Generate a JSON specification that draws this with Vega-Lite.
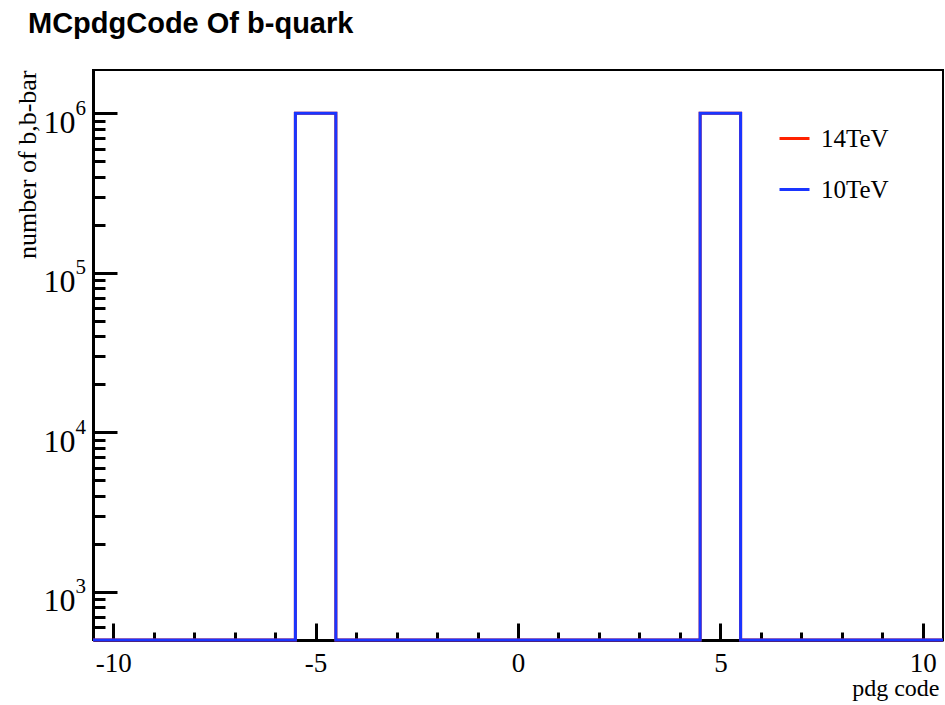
{
  "$schema": "https://vega.github.io/schema/vega-lite/v6.json",
  "width": 850,
  "height": 570,
  "autosize": "none",
  "padding": {"left": 93, "top": 70, "right": 2, "bottom": 65},
  "background": "white",
  "title": {
    "text": "MCpdgCode Of b-quark",
    "font": "Liberation Sans",
    "fontWeight": "bold",
    "fontSize": 29,
    "color": "black",
    "anchor": "start",
    "frame": "group",
    "dx": -65,
    "offset": 8,
    "baseline": "alphabetic"
  },
  "config": {
    "view": {"stroke": "black", "strokeWidth": 2},
    "axis": {"grid": false}
  },
  "data": {
    "values": [
      {"pdg": -10.5, "14TeV": 0, "10TeV": 0},
      {"pdg": -9.5, "14TeV": 0, "10TeV": 0},
      {"pdg": -8.5, "14TeV": 0, "10TeV": 0},
      {"pdg": -7.5, "14TeV": 0, "10TeV": 0},
      {"pdg": -6.5, "14TeV": 0, "10TeV": 0},
      {"pdg": -5.5, "14TeV": 1000000, "10TeV": 1000000},
      {"pdg": -4.5, "14TeV": 0, "10TeV": 0},
      {"pdg": -3.5, "14TeV": 0, "10TeV": 0},
      {"pdg": -2.5, "14TeV": 0, "10TeV": 0},
      {"pdg": -1.5, "14TeV": 0, "10TeV": 0},
      {"pdg": -0.5, "14TeV": 0, "10TeV": 0},
      {"pdg": 0.5, "14TeV": 0, "10TeV": 0},
      {"pdg": 1.5, "14TeV": 0, "10TeV": 0},
      {"pdg": 2.5, "14TeV": 0, "10TeV": 0},
      {"pdg": 3.5, "14TeV": 0, "10TeV": 0},
      {"pdg": 4.5, "14TeV": 1000000, "10TeV": 1000000},
      {"pdg": 5.5, "14TeV": 0, "10TeV": 0},
      {"pdg": 6.5, "14TeV": 0, "10TeV": 0},
      {"pdg": 7.5, "14TeV": 0, "10TeV": 0},
      {"pdg": 8.5, "14TeV": 0, "10TeV": 0},
      {"pdg": 9.5, "14TeV": 0, "10TeV": 0},
      {"pdg": 10.5, "14TeV": 0, "10TeV": 0}
    ]
  },
  "transform": [{"fold": ["14TeV", "10TeV"], "as": ["energy", "count"]}],
  "layer": [
    {
      "transform": [{"filter": "datum.energy === '14TeV'"}],
      "mark": {"type": "line", "interpolate": "step-after", "strokeWidth": 3},
      "encoding": {
        "x": {
          "field": "pdg",
          "type": "quantitative",
          "scale": {"domain": [-10.5, 10.5], "nice": false, "zero": false},
          "axis": {
            "orient": "bottom",
            "values": [-10, -9, -8, -7, -6, -5, -4, -3, -2, -1, 0, 1, 2, 3, 4, 5, 6, 7, 8, 9, 10],
            "tickSize": {"condition": {"test": "datum.value % 5 === 0", "value": -17}, "value": -8},
            "tickWidth": 3,
            "tickColor": "black",
            "domainColor": "black",
            "domainWidth": 3,
            "labelExpr": "datum.value % 5 === 0 ? '' + datum.value : ''",
            "labelFont": "Liberation Serif",
            "labelFontSize": 27,
            "labelColor": "black",
            "labelBaseline": "alphabetic",
            "labelPadding": 48,
            "labelFlush": false,
            "labelOverlap": false,
            "title": "pdg code",
            "titleFont": "Liberation Serif",
            "titleFontSize": 24,
            "titleFontWeight": "normal",
            "titleColor": "black",
            "titleAlign": "right",
            "titleBaseline": "alphabetic",
            "titleX": 846,
            "titleY": 55
          }
        },
        "y": {
          "field": "count",
          "type": "quantitative",
          "scale": {"type": "log", "domain": [500, 1870000], "nice": false, "clamp": true},
          "axis": {
            "orient": "left",
            "values": [600, 700, 800, 900, 1000, 2000, 3000, 4000, 5000, 6000, 7000, 8000, 9000, 10000, 20000, 30000, 40000, 50000, 60000, 70000, 80000, 90000, 100000, 200000, 300000, 400000, 500000, 600000, 700000, 800000, 900000, 1000000],
            "tickSize": {"condition": {"test": "abs(log(datum.value) / LN10 - round(log(datum.value) / LN10)) < 0.000001", "value": -24}, "value": -12},
            "tickWidth": 3,
            "tickColor": "black",
            "domainColor": "black",
            "domainWidth": 3,
            "labelExpr": "abs(log(datum.value) / LN10 - round(log(datum.value) / LN10)) < 0.000001 ? '10' : ''",
            "labelFont": "Liberation Serif",
            "labelFontSize": 32,
            "labelColor": "black",
            "labelAlign": "right",
            "labelBaseline": "alphabetic",
            "labelOffset": 19,
            "labelPadding": 42,
            "labelFlush": false,
            "labelOverlap": false,
            "title": "number of b,b-bar",
            "titleFont": "Liberation Serif",
            "titleFontSize": 26,
            "titleFontWeight": "normal",
            "titleColor": "black",
            "titleAngle": -90,
            "titleAlign": "right",
            "titleBaseline": "alphabetic",
            "titleX": -58,
            "titleY": 0
          }
        },
        "color": {
          "field": "energy",
          "type": "nominal",
          "scale": {"domain": ["14TeV", "10TeV"], "range": ["#ff2200", "#1a35ff"]},
          "legend": {
            "orient": "none",
            "legendX": 685,
            "legendY": 52,
            "title": null,
            "symbolType": "stroke",
            "symbolSize": 900,
            "symbolStrokeWidth": 3,
            "labelFont": "Liberation Serif",
            "labelFontSize": 25,
            "labelColor": "black",
            "labelOffset": 10,
            "rowPadding": 21
          }
        }
      }
    },
    {
      "transform": [{"filter": "datum.energy === '10TeV'"}],
      "mark": {"type": "line", "interpolate": "step-after", "strokeWidth": 3},
      "encoding": {
        "x": {
          "field": "pdg",
          "type": "quantitative",
          "scale": {"domain": [-10.5, 10.5], "nice": false, "zero": false},
          "axis": null
        },
        "y": {
          "field": "count",
          "type": "quantitative",
          "scale": {"type": "log", "domain": [500, 1870000], "nice": false, "clamp": true},
          "axis": {
            "orient": "left",
            "values": [1000, 10000, 100000, 1000000],
            "ticks": false,
            "domain": false,
            "labelExpr": "'' + round(log(datum.value) / LN10)",
            "labelFont": "Liberation Serif",
            "labelFontSize": 21,
            "labelColor": "black",
            "labelAlign": "left",
            "labelBaseline": "alphabetic",
            "labelOffset": 1,
            "labelPadding": 18,
            "labelFlush": false,
            "labelOverlap": false,
            "title": null
          }
        },
        "color": {"field": "energy", "type": "nominal"}
      }
    }
  ],
  "resolve": {"axis": {"x": "independent", "y": "independent"}}
}
